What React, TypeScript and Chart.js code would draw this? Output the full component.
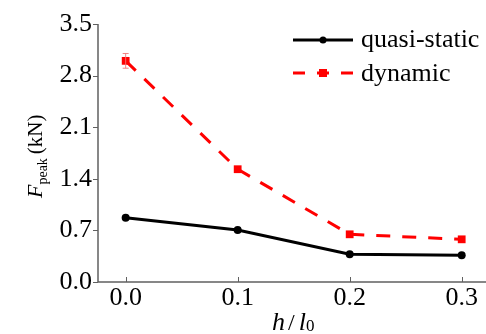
import React, { useEffect, useRef } from "react";
import { Chart, registerables } from "chart.js";

Chart.register(...registerables);

const xValues = [0.0, 0.1, 0.2, 0.3];
const quasiStatic = [0.872, 0.705, 0.376, 0.362];
const dynamic = [3.0, 1.53, 0.647, 0.579];
const dynamicErr = [0.1, 0.03, 0.02, 0.02];
const xTicks = [0.0, 0.1, 0.2, 0.3];
const yTicks = [0.0, 0.7, 1.4, 2.1, 2.8, 3.5];

const FONT = "'Liberation Serif', 'DejaVu Serif', serif";

const decorPlugin = {
  id: "decor",
  afterDraw(chart: any) {
    const ctx = chart.ctx;
    const xs = chart.scales.x;
    const ys = chart.scales.y;
    const area = chart.chartArea;
    ctx.save();
    // axes lines
    ctx.strokeStyle = "#606060";
    ctx.lineWidth = 1.5;
    ctx.beginPath();
    ctx.moveTo(area.left, area.top);
    ctx.lineTo(area.left, area.bottom);
    ctx.lineTo(chart.width, area.bottom);
    ctx.stroke();
    // y ticks outward
    ctx.lineWidth = 1;
    for (const v of yTicks) {
      const y = Math.round(ys.getPixelForValue(v)) + 0.5;
      ctx.beginPath();
      ctx.moveTo(area.left - 5, y);
      ctx.lineTo(area.left, y);
      ctx.stroke();
    }
    // x ticks inward
    for (const v of xTicks) {
      const x = Math.round(xs.getPixelForValue(v)) + 0.5;
      ctx.beginPath();
      ctx.moveTo(x, area.bottom);
      ctx.lineTo(x, area.bottom - 5);
      ctx.stroke();
    }
    // error bars on dynamic
    ctx.strokeStyle = "rgba(240,120,120,0.9)";
    ctx.lineWidth = 1;
    for (let i = 0; i < xValues.length; i++) {
      const e = dynamicErr[i];
      const x = xs.getPixelForValue(xValues[i]);
      const y1 = ys.getPixelForValue(dynamic[i] + e);
      const y2 = ys.getPixelForValue(dynamic[i] - e);
      if (y2 - y1 < 8) continue;
      ctx.beginPath();
      ctx.moveTo(x, y1);
      ctx.lineTo(x, y2);
      ctx.moveTo(x - 3, y1);
      ctx.lineTo(x + 3, y1);
      ctx.moveTo(x - 3, y2);
      ctx.lineTo(x + 3, y2);
      ctx.stroke();
    }
    // legend
    const lx1 = 293, lx2 = 353;
    ctx.lineWidth = 3;
    ctx.strokeStyle = "#000";
    ctx.beginPath();
    ctx.moveTo(lx1, 40);
    ctx.lineTo(lx2, 40);
    ctx.stroke();
    ctx.fillStyle = "#000";
    ctx.beginPath();
    ctx.arc((lx1 + lx2) / 2, 40, 3.5, 0, Math.PI * 2);
    ctx.fill();
    ctx.strokeStyle = "#ff0000";
    ctx.setLineDash([12, 12]);
    ctx.beginPath();
    ctx.moveTo(lx1, 73);
    ctx.lineTo(lx2, 73);
    ctx.stroke();
    ctx.setLineDash([]);
    ctx.fillStyle = "#ff0000";
    ctx.fillRect((lx1 + lx2) / 2 - 4, 69, 8, 8);
    ctx.fillStyle = "#000";
    ctx.font = `26px ${FONT}`;
    ctx.textBaseline = "alphabetic";
    ctx.textAlign = "left";
    ctx.fillText("quasi-static", 361, 47);
    ctx.fillText("dynamic", 361, 81);
    // x title
    const xtY = 330;
    let cx = 272;
    ctx.font = `italic 26px ${FONT}`;
    ctx.fillText("h", cx, xtY);
    cx += ctx.measureText("h").width + 3;
    ctx.font = `24px ${FONT}`;
    ctx.fillText("/", cx, xtY);
    cx += ctx.measureText("/").width + 4;
    ctx.font = `italic 26px ${FONT}`;
    ctx.fillText("l", cx, xtY);
    cx += ctx.measureText("l").width;
    ctx.font = `17px ${FONT}`;
    ctx.fillText("0", cx, xtY + 1);
    // y title
    ctx.save();
    ctx.translate(42, 198);
    ctx.rotate(-Math.PI / 2);
    let ty = 0;
    ctx.font = `italic 22px ${FONT}`;
    ctx.fillText("F", ty, 0);
    ty += ctx.measureText("F").width;
    ctx.font = `14px ${FONT}`;
    ctx.fillText("peak", ty, 5);
    ty += ctx.measureText("peak").width + 4;
    ctx.font = `21px ${FONT}`;
    ctx.fillText("(kN)", ty, 0);
    ctx.restore();
    ctx.restore();
  },
};

export default function App() {
  const ref = useRef<HTMLCanvasElement | null>(null);
  useEffect(() => {
    if (!ref.current) return;
    const chart = new Chart(ref.current, {
      type: "line",
      data: {
        datasets: [
          {
            label: "quasi-static",
            data: xValues.map((x, i) => ({ x, y: quasiStatic[i] })),
            borderColor: "#000",
            backgroundColor: "#000",
            borderWidth: 3,
            pointRadius: 4,
            pointBorderWidth: 0,
            pointStyle: "circle",
          },
          {
            label: "dynamic",
            data: xValues.map((x, i) => ({ x, y: dynamic[i] })),
            borderColor: "#ff0000",
            backgroundColor: "#ff0000",
            borderWidth: 3,
            borderDash: [14, 12],
            pointRadius: 5.5,
            pointBorderWidth: 0,
            pointStyle: "rect",
          },
        ],
      },
      options: {
        animation: false,
        responsive: false,
        devicePixelRatio: 1,
        layout: { autoPadding: false, padding: { top: 24, right: 0, left: 0, bottom: 0 } },
        plugins: { legend: { display: false }, tooltip: { enabled: false } },
        scales: {
          x: {
            type: "linear",
            min: -0.0247,
            max: 0.3217,
            grid: { display: false, drawTicks: false },
            border: { display: false },
            afterBuildTicks: (s: any) => {
              s.ticks = xTicks.map((v) => ({ value: v }));
            },
            afterFit: (s: any) => {
              s.height = 52;
              s.paddingLeft = 0;
              s.paddingRight = 0;
            },
            ticks: {
              color: "#000",
              font: { family: FONT, size: 26 },
              padding: 1,
              maxRotation: 0,
              callback: (v: any) => Number(v).toFixed(1),
            },
          },
          y: {
            min: 0,
            max: 3.5,
            grid: { display: false, drawTicks: false },
            border: { display: false },
            afterBuildTicks: (s: any) => {
              s.ticks = yTicks.map((v) => ({ value: v }));
            },
            afterFit: (s: any) => {
              s.width = 98;
              s.paddingTop = 0;
              s.paddingBottom = 0;
            },
            ticks: {
              color: "#000",
              font: { family: FONT, size: 26 },
              padding: 6,
              callback: (v: any) => Number(v).toFixed(1),
            },
          },
        },
      },
      plugins: [decorPlugin],
    });
    return () => chart.destroy();
  }, []);
  return (
    <div style={{ position: "absolute", left: 0, top: 0, width: 486, height: 334, background: "#fff" }}>
      <canvas ref={ref} width={486} height={334} />
    </div>
  );
}
